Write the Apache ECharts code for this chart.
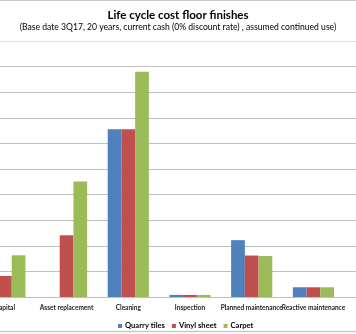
<!DOCTYPE html>
<html><head><meta charset="utf-8">
<script src="https://cdn.jsdelivr.net/npm/echarts@6/dist/echarts.min.js"></script>
<style>html,body{margin:0;padding:0;background:#fff;overflow:hidden;width:356px;height:334px;position:relative}
#c{position:absolute;left:-54px;top:0;width:464px;height:334px}</style>
</head><body><div id="c"></div>
<script>
const categories = ['Capital','Asset replacement','Cleaning','Inspection','Planned maintenance','Reactive maintenance','Disposal'];
const quarryTiles = [40, 0, 131, 1.6, 44.4, 7.6, 0];
const vinylSheet  = [16.4, 48.2, 131, 1.6, 32.4, 7.6, 0];
const carpet      = [32.6, 90.2, 176, 1.6, 32, 7.6, 0];
const seriesNames = ['Quarry tiles','Vinyl sheet','Carpet'];
const colors = ['#4F81BD','#C0504D','#9BBB59'];

const chart = echarts.init(document.getElementById('c'), null, {renderer:'canvas'});
const font = 'Lato, "Open Sans", sans-serif';
const mk = (name, data, i) => ({
  name, type:'bar', data, barGap:'0%', barCategoryGap:'33.3%',
  itemStyle:{color:colors[i]}, animation:false
});
chart.setOption({
  animation:false,
  textStyle:{fontFamily:font},
  title:{
    text:'Life cycle cost floor finishes',
    subtext:'(Base date 3Q17, 20 years, current cash (0% discount rate) , assumed continued use)',
    left:'center', top:4, itemGap:2,
    textStyle:{fontFamily:font, fontSize:11.5, fontWeight:'bold', color:'#000'},
    subtextStyle:{fontFamily:font, fontSize:8.6, color:'#000'}
  },
  legend:{
    data:seriesNames, left:167, top:317, itemWidth:4, itemHeight:4, itemGap:7,
    icon:'rect',
    textStyle:{fontFamily:font, fontSize:7.6, fontWeight:'bold', color:'#000', padding:[0,0,0,-2]}
  },
  grid:{left:28, width:432, top:41, bottom:37, containLabel:false},
  xAxis:{
    type:'category', data:categories,
    axisLine:{lineStyle:{color:'#bfbfbf'}}, axisTick:{show:false},
    axisLabel:{interval:0, fontFamily:font, fontSize:6.5, fontWeight:'bold', color:'#222', margin:7}
  },
  yAxis:{
    type:'value', min:0, max:200, interval:20,
    axisLabel:{show:false}, axisLine:{show:false}, axisTick:{show:false},
    splitLine:{lineStyle:{color:['#bfbfbf','#bfbfbf','#bfbfbf','#bfbfbf','#bfbfbf','#bfbfbf','#bfbfbf','#bfbfbf','#bfbfbf','#bfbfbf','#dcdcdc'], width:1}}
  },
  graphic:[
    {type:'line', shape:{x1:54,y1:0.5,x2:410,y2:0.5}, style:{stroke:'#c8c8c8', lineWidth:1}},
    {type:'line', shape:{x1:54,y1:331.5,x2:410,y2:331.5}, style:{stroke:'#c8c8c8', lineWidth:1.5}}
  ],
  series:[mk(seriesNames[0], quarryTiles, 0), mk(seriesNames[1], vinylSheet, 1), mk(seriesNames[2], carpet, 2)]
});
</script></body></html>
